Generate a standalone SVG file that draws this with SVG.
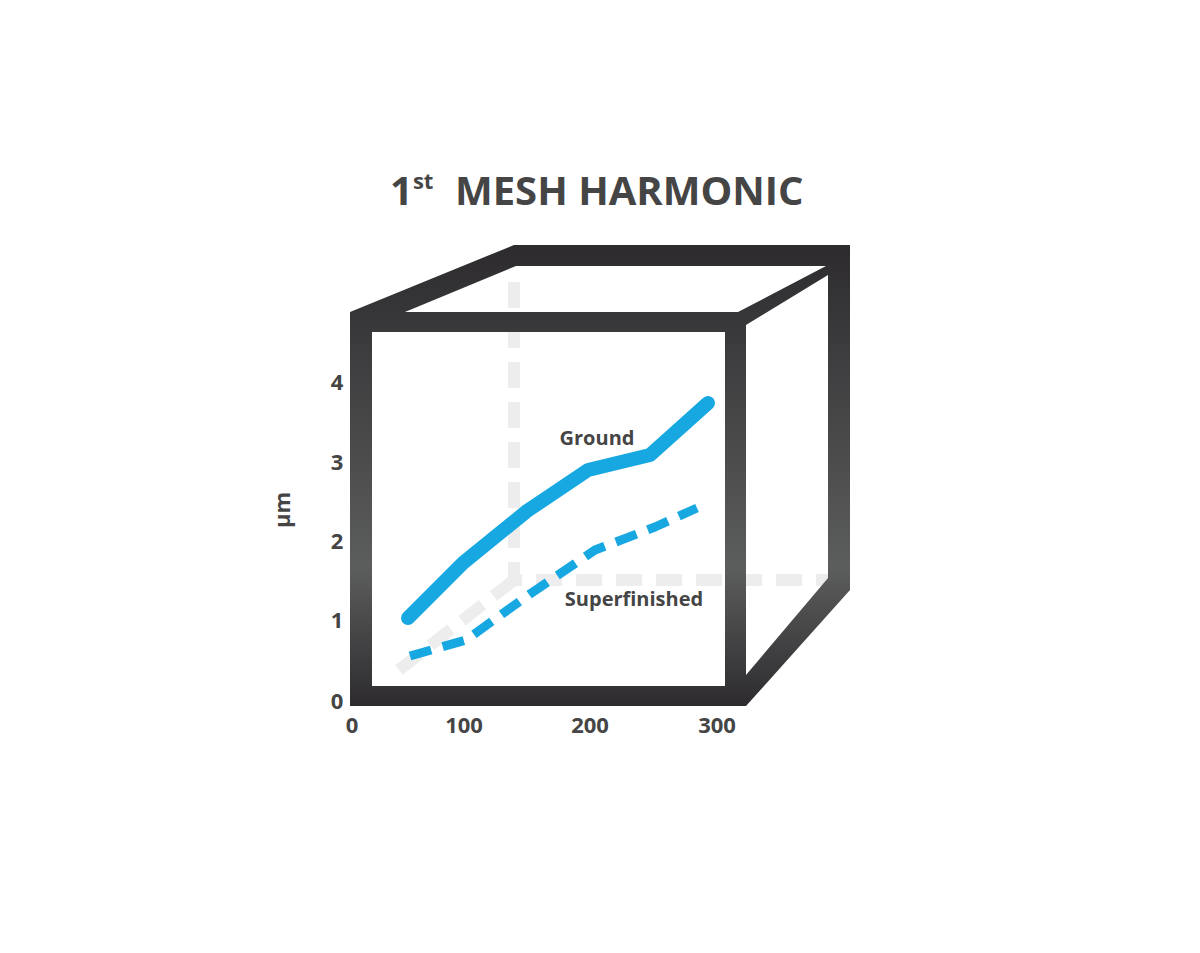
<svg xmlns="http://www.w3.org/2000/svg" width="1200" height="953" viewBox="0 0 1200 953">
<style>
text{font-family:"Open Sans","Liberation Sans",sans-serif;font-weight:bold;fill:#454545}
.ax{font-size:22px;text-anchor:middle}
.lb{font-size:20px;text-anchor:middle}
.hid{stroke:#ededed;stroke-width:12;fill:none;stroke-dasharray:26 14}
</style>
<defs>
<linearGradient id="g" x1="0" y1="245" x2="0" y2="706" gradientUnits="userSpaceOnUse">
<stop offset="0" stop-color="#2d2b2e"/><stop offset="0.7" stop-color="#5c5d5d"/><stop offset="1" stop-color="#2d2b2e"/>
</linearGradient>
</defs>
<rect width="1200" height="953" fill="#fff"/>
<g id="title"><text x="390" y="205" font-size="40">1<tspan font-size="22" dy="-16">st</tspan><tspan dy="16" x="455">MESH HARMONIC</tspan></text></g>
<g id="hidden">
<path class="hid" d="M514 282V580H828M514 580L390 677"/>
</g>
<g id="cube">
<path fill="url(#g)" fill-rule="evenodd" d="M350 312L514 245H850V590L746 706H350Z M372 332H725V686H372Z M405 312L516 266H826L738 312Z M746 325L828 275V578L746 675Z"/>
</g>
<g id="connectors">
<polyline points="408,618 463,563 527,511 588,470 650,455 708,403" fill="none" stroke="#17a8e1" stroke-width="14" stroke-linecap="round" stroke-linejoin="round"/>
<polyline points="410,656 466,640 530,594 595,550 655,527 697,508" fill="none" stroke="#17a8e1" stroke-width="9" stroke-dasharray="22 12" stroke-linejoin="round"/>
</g>
<g id="labels">
<text class="ax" x="337" y="390">4</text>
<text class="ax" x="337" y="470">3</text>
<text class="ax" x="337" y="549">2</text>
<text class="ax" x="337" y="628">1</text>
<text class="ax" x="337" y="709">0</text>
<text class="ax" x="352" y="733">0</text>
<text class="ax" x="464" y="733">100</text>
<text class="ax" x="590" y="733">200</text>
<text class="ax" x="717" y="733">300</text>
<text class="ax" transform="translate(290 510) rotate(-90)">µm</text>
<text class="lb" x="597" y="445">Ground</text>
<text class="lb" x="634" y="606">Superfinished</text>
</g>
</svg>
